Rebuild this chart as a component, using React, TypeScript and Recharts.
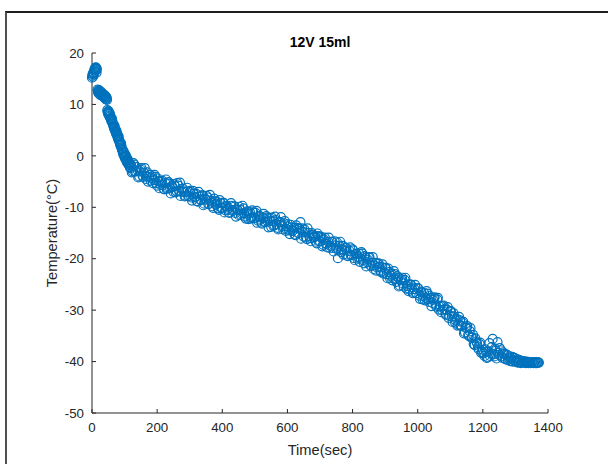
import { Scatter, ScatterChart, XAxis, YAxis } from "recharts";

// [time (sec), temperature (°C)], split by cooling phase
const warmStart: [number, number][] = [
  [0, 15.2], [1, 15.6], [2, 15.9], [3, 15.4], [4, 16.1], [5, 16.3], [6, 15.8], [7, 16.6],
  [8, 16.9], [9, 16.4], [10, 17.1], [11, 16.8], [12, 17.2], [13, 16.6], [14, 16.2], [15, 16.9],
];

const firstDrop: [number, number][] = [
  [17, 12.9], [19, 12.4], [21, 12.8], [23, 12.1], [25, 12.5], [27, 11.9], [29, 12.3], [31, 11.7],
  [33, 12.0], [35, 11.5], [37, 11.8], [39, 11.2], [41, 11.6], [43, 11.0], [45, 11.3],
  [18, 12.6], [20, 12.2], [22, 12.7], [24, 12.3], [26, 11.8], [28, 12.4], [30, 11.9], [32, 12.1],
  [34, 11.6], [36, 11.9], [38, 11.4], [40, 11.7], [42, 11.1], [44, 11.4], [46, 10.9],
];

const steepFall: [number, number][] = [
  [47, 8.9], [49, 8.4], [51, 8.7], [53, 7.9], [55, 8.2], [57, 7.4], [59, 7.0], [61, 7.3],
  [63, 6.5], [65, 6.1], [67, 5.6], [69, 5.9], [71, 5.0], [73, 4.6], [75, 4.9], [77, 4.1],
  [79, 3.6], [81, 3.9], [83, 3.1], [85, 2.7], [87, 2.2], [89, 2.5], [91, 1.6], [93, 1.2],
  [95, 0.6], [97, 0.9], [99, 0.1], [101, -0.3], [103, 0.2], [105, -0.8], [107, -1.1], [109, -0.6],
  [111, -1.5], [113, -1.2], [115, -1.9], [117, -2.2], [119, -1.7],
  [48, 8.6], [50, 8.1], [52, 8.4], [54, 7.6], [56, 7.8], [58, 7.1], [60, 6.7], [62, 6.9],
  [64, 6.2], [66, 5.8], [68, 5.3], [70, 5.5], [72, 4.8], [74, 4.3], [76, 4.5], [78, 3.8],
  [80, 3.3], [82, 3.6], [84, 2.8], [86, 2.4], [88, 1.9], [90, 2.1], [92, 1.3], [94, 0.9],
  [96, 0.3], [98, 0.6], [100, -0.2], [102, -0.5], [104, -0.1], [106, -1.0], [108, -1.3], [110, -0.8],
  [112, -1.6], [114, -1.4], [116, -2.1], [118, -2.4],
];

const knee: [number, number][] = [
  [120, -1.8], [125, -3.0], [130, -1.7], [135, -3.0], [140, -2.8], [145, -4.0], [150, -2.7],
  [155, -3.8], [160, -3.3], [165, -4.5], [170, -3.2], [175, -4.1], [180, -4.8], [185, -4.0],
  [190, -4.7], [195, -4.1], [200, -5.8], [205, -4.9], [210, -5.6], [215, -4.8], [220, -6.4],
  [225, -5.3], [230, -6.4], [235, -5.1], [240, -6.3], [245, -5.9], [250, -7.0], [255, -5.9],
  [260, -6.9], [265, -5.8], [270, -5.2], [275, -7.0], [280, -6.4], [285, -7.9], [290, -7.0],
  [295, -7.8], [300, -7.0],
  [122, -3.2], [127, -1.4], [132, -3.0], [137, -2.2], [142, -4.2], [147, -3.0], [152, -2.4],
  [157, -4.1], [162, -2.4], [167, -4.0], [172, -5.0], [177, -3.7], [182, -4.3], [187, -5.3],
  [192, -3.7], [197, -5.3], [202, -4.4], [207, -6.3], [212, -5.0], [217, -5.7], [222, -6.5],
  [227, -4.6], [232, -6.2], [237, -5.4], [242, -7.3], [247, -6.1], [252, -5.5], [257, -7.1],
  [262, -5.3], [267, -6.8], [272, -7.8], [277, -6.4], [282, -6.9], [287, -7.8], [292, -6.2],
  [297, -7.8],
];

const slowCooling: [number, number][] = [
  [305, -8.1], [310, -6.8], [315, -8.1], [320, -7.4], [325, -8.9], [330, -7.9], [335, -8.6],
  [340, -7.7], [345, -9.3], [350, -8.5], [355, -8.1], [360, -9.3], [365, -8.7], [370, -9.8],
  [375, -8.3], [380, -9.5], [385, -9.0], [390, -10.5], [395, -9.2], [400, -10.1], [405, -9.2],
  [410, -10.6], [415, -9.9], [420, -11.0], [425, -9.7], [430, -10.5], [435, -9.7], [440, -11.1],
  [445, -10.4], [450, -11.5], [455, -10.5], [460, -11.2], [465, -10.2], [470, -11.8], [475, -11.2],
  [480, -12.3], [485, -11.0], [490, -12.0], [495, -11.0], [500, -12.1], [505, -10.7], [510, -12.6],
  [515, -11.7], [520, -13.0], [525, -12.1], [530, -12.9], [535, -11.7], [540, -12.8], [545, -12.1],
  [550, -13.8], [555, -12.7], [560, -13.5], [565, -12.5], [570, -14.0], [575, -12.9], [580, -11.9],
  [585, -13.7], [590, -13.1], [595, -14.6], [600, -13.7], [605, -14.5], [610, -13.4], [615, -14.6],
  [620, -14.0], [625, -15.4], [630, -14.0], [635, -15.0], [640, -12.9], [645, -14.1], [650, -15.7],
  [655, -14.9], [660, -16.2], [665, -15.0], [670, -16.0], [675, -15.0], [680, -15.9], [685, -15.6],
  [690, -17.0], [695, -15.6], [700, -16.6],
  [302, -6.8], [307, -8.7], [312, -7.4], [317, -8.0], [322, -8.8], [327, -7.0], [332, -8.5],
  [337, -7.7], [342, -9.6], [347, -8.3], [352, -7.8], [357, -9.4], [362, -7.6], [367, -9.1],
  [372, -10.1], [377, -8.8], [382, -9.3], [387, -10.2], [392, -8.6], [397, -10.1], [402, -9.1],
  [407, -11.0], [412, -9.7], [417, -10.3], [422, -11.1], [427, -9.2], [432, -10.7], [437, -9.9],
  [442, -11.8], [447, -10.5], [452, -9.9], [457, -11.5], [462, -9.7], [467, -11.2], [472, -12.2],
  [477, -10.8], [482, -11.3], [487, -12.2], [492, -10.6], [497, -12.1], [502, -11.1], [507, -13.0],
  [512, -11.8], [517, -12.4], [522, -13.2], [527, -11.3], [532, -12.8], [537, -12.0], [542, -13.9],
  [547, -12.6], [552, -12.0], [557, -13.6], [562, -11.8], [567, -13.3], [572, -14.3], [577, -12.9],
  [582, -13.4], [587, -14.3], [592, -12.7], [597, -14.2], [602, -13.3], [607, -15.2], [612, -13.9],
  [617, -14.5], [622, -15.3], [627, -13.5], [632, -15.0], [637, -14.2], [642, -16.1], [647, -14.8],
  [652, -14.3], [657, -15.9], [662, -14.1], [667, -15.6], [672, -16.6], [677, -15.3], [682, -15.8],
  [687, -16.7], [692, -15.1], [697, -16.6],
];

const midCooling: [number, number][] = [
  [705, -16.0], [710, -17.3], [715, -15.9], [720, -17.1], [725, -16.7], [730, -17.9], [735, -16.7],
  [740, -17.9], [745, -16.6], [750, -18.0], [755, -19.9], [760, -17.5], [765, -18.7], [770, -17.5],
  [775, -18.4], [780, -17.9], [785, -19.5], [790, -18.5], [795, -19.3], [800, -18.2], [805, -19.9],
  [810, -19.0], [815, -20.0], [820, -19.0], [825, -20.0], [830, -19.0], [835, -20.9], [840, -19.8],
  [845, -20.7], [850, -19.8], [855, -21.3], [860, -20.8], [865, -22.0], [870, -20.8], [875, -21.7],
  [880, -20.9], [885, -22.3], [890, -21.7], [895, -22.9], [900, -21.8], [905, -23.0], [910, -21.9],
  [915, -23.8], [920, -23.0], [925, -23.8], [930, -23.0], [935, -24.5], [940, -23.7], [945, -25.2],
  [950, -24.0], [955, -24.8], [960, -24.1], [965, -25.8], [970, -25.0], [975, -25.9], [980, -25.1],
  [985, -26.7], [990, -25.9], [995, -26.7], [1000, -25.7],
  [702, -15.7], [707, -17.6], [712, -16.3], [717, -17.0], [722, -17.8], [727, -15.9], [732, -17.5],
  [737, -16.7], [742, -18.6], [747, -17.4], [752, -16.8], [757, -18.4], [762, -16.7], [767, -18.2],
  [772, -19.2], [777, -17.9], [782, -18.4], [787, -19.4], [792, -17.8], [797, -19.3], [802, -18.4],
  [807, -20.3], [812, -19.1], [817, -19.7], [822, -20.6], [827, -18.7], [832, -20.3], [837, -19.5],
  [842, -21.5], [847, -20.2], [852, -19.7], [857, -21.4], [862, -19.7], [867, -21.3], [872, -22.3],
  [877, -21.0], [882, -21.6], [887, -22.6], [892, -21.1], [897, -22.7], [902, -21.8], [907, -23.8],
  [912, -22.6], [917, -23.3], [922, -24.2], [927, -22.4], [932, -24.0], [937, -23.4], [942, -25.4],
  [947, -24.2], [952, -23.7], [957, -25.4], [962, -23.7], [967, -25.3], [972, -26.3], [977, -25.0],
  [982, -25.6], [987, -26.6], [992, -25.1], [997, -26.7],
];

const fastCooling: [number, number][] = [
  [1005, -27.2], [1010, -26.4], [1015, -27.9], [1020, -26.7], [1025, -27.6], [1030, -26.8],
  [1035, -28.4], [1040, -27.6], [1045, -28.6], [1050, -27.7], [1055, -28.9], [1060, -27.9],
  [1065, -29.9], [1070, -29.1], [1075, -30.0], [1080, -29.1], [1085, -30.7], [1090, -29.9],
  [1095, -31.5], [1100, -30.3], [1105, -31.2], [1110, -30.6], [1115, -32.4], [1120, -31.7],
  [1125, -32.8], [1130, -32.0], [1135, -33.1], [1140, -32.3], [1145, -34.3], [1150, -33.4],
  [1155, -34.8], [1160, -34.1], [1165, -35.4], [1170, -34.8], [1175, -36.8], [1180, -36.1],
  [1185, -37.2], [1190, -36.6], [1195, -38.3], [1200, -37.7],
  [1002, -25.8], [1007, -27.8], [1012, -26.6], [1017, -27.3], [1022, -28.1], [1027, -26.3],
  [1032, -27.9], [1037, -27.2], [1042, -29.2], [1047, -28.0], [1052, -27.5], [1057, -29.3],
  [1062, -27.6], [1067, -29.3], [1072, -30.4], [1077, -29.2], [1082, -29.8], [1087, -30.9],
  [1092, -29.4], [1097, -31.1], [1102, -30.2], [1107, -32.3], [1112, -31.2], [1117, -32.0],
  [1122, -33.0], [1127, -31.3], [1132, -33.0], [1137, -32.4], [1142, -34.5], [1147, -33.4],
  [1152, -33.1], [1157, -35.0], [1162, -33.5], [1167, -35.3], [1172, -36.6], [1177, -35.5],
  [1182, -36.4], [1187, -37.6], [1192, -36.3], [1197, -38.1],
];

const plateau: [number, number][] = [
  [1205, -38.9], [1210, -38.1], [1215, -39.2], [1220, -36.4], [1225, -38.4], [1230, -35.6],
  [1235, -39.0], [1240, -37.9], [1245, -36.2], [1250, -38.7], [1255, -37.8], [1260, -39.3],
  [1265, -38.5], [1270, -39.6], [1275, -38.8], [1280, -39.4], [1285, -39.9], [1290, -39.1],
  [1295, -39.7], [1300, -40.0], [1305, -39.5], [1310, -40.1], [1315, -39.8], [1320, -40.2],
  [1325, -39.9], [1330, -40.2], [1335, -40.0], [1340, -40.3], [1345, -40.1], [1350, -40.2],
  [1355, -40.3], [1360, -40.1], [1365, -40.3], [1370, -40.2], [1372, -40.2],
  [1202, -38.4], [1207, -37.6], [1212, -39.3], [1217, -38.0], [1222, -38.9], [1227, -37.2],
  [1232, -38.6], [1237, -37.5], [1242, -39.4], [1247, -38.3], [1252, -37.4], [1257, -39.0],
  [1262, -38.2], [1267, -39.4], [1272, -38.6], [1277, -39.7], [1282, -39.0], [1287, -39.5],
  [1292, -40.0], [1297, -39.3], [1302, -39.8], [1307, -40.2], [1312, -39.7], [1317, -40.3],
  [1322, -40.0], [1327, -40.1], [1332, -40.3], [1337, -40.1], [1342, -40.2], [1347, -40.3],
  [1352, -40.1], [1357, -40.2], [1362, -40.3], [1367, -40.1],
];

const xTicks = [0, 200, 400, 600, 800, 1000, 1200, 1400];
const yTicks = [-50, -40, -30, -20, -10, 0, 10, 20];

const points = [...warmStart, ...firstDrop, ...steepFall, ...knee, ...slowCooling, ...midCooling, ...fastCooling, ...plateau].map(
  ([time, temp]) => ({ time, temp })
);

const font = "'Liberation Sans', Arial, Helvetica, sans-serif";
const axisColor = "#262626";
const markerColor = "#0072BD";

const tickStyle = { fill: axisColor, fontSize: 13.3, fontFamily: font };

const OpenCircle = (props: any) => {
  if (props.cx == null || props.cy == null) return null;
  return <circle cx={props.cx} cy={props.cy} r={4.5} fill="none" stroke={markerColor} strokeWidth={1.2} />;
};

const XLabel = (props: any) => {
  const vb = props.viewBox || {};
  return (
    <text x={vb.x + vb.width / 2} y={vb.y + 37} textAnchor="middle" dominantBaseline="central" fill={axisColor} fontSize={14.67} fontFamily={font}>
      Time(sec)
    </text>
  );
};

const YLabel = (props: any) => {
  const vb = props.viewBox || {};
  const cx = 52;
  const cy = vb.y + vb.height / 2;
  return (
    <text x={cx} y={cy} transform={`rotate(-90, ${cx}, ${cy})`} textAnchor="middle" dominantBaseline="central" fill={axisColor} fontSize={14.67} fontFamily={font}>
      Temperature(°C)
    </text>
  );
};

export default function App() {
  return (
    <div style={{ position: "absolute", left: 0, top: 0, width: 608, height: 464, background: "#fff", overflow: "hidden" }}>
      <div style={{ position: "absolute", left: 5, top: 11, right: 0, bottom: 0, borderTop: "2px solid #1e1e1e", borderLeft: "2px solid #505050" }} />
      <div
        style={{
          position: "absolute",
          left: 92,
          width: 456,
          top: 34,
          lineHeight: "16px",
          fontSize: 14,
          fontWeight: "bold",
          fontFamily: font,
          color: "#000",
          textAlign: "center",
        }}
      >
        12V 15ml
      </div>
      <ScatterChart width={608} height={464} margin={{ top: 53, right: 60, bottom: 0, left: 0 }}>
        <XAxis
          type="number"
          dataKey="time"
          domain={[0, 1400]}
          ticks={xTicks}
          interval={0}
          height={51}
          tickSize={-4}
          tickMargin={14}
          stroke={axisColor}
          tick={tickStyle}
          label={<XLabel />}
        />
        <YAxis
          type="number"
          dataKey="temp"
          domain={[-50, 20]}
          ticks={yTicks}
          interval={0}
          width={92}
          tickSize={-4}
          tickMargin={12}
          stroke={axisColor}
          tick={tickStyle}
          label={<YLabel />}
        />
        <Scatter data={points} shape={<OpenCircle />} isAnimationActive={false} />
      </ScatterChart>
    </div>
  );
}
